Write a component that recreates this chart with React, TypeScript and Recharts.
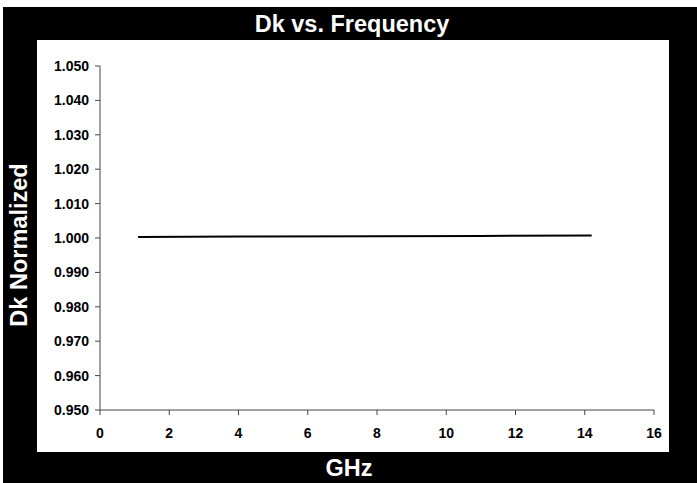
import React from 'react'
import { LineChart, Line, XAxis, YAxis } from 'recharts'

// values
const frequencyGHz = [1.1, 4, 8, 11, 14.2]
const dkNormalized = [1.0003, 1.0004, 1.0005, 1.0006, 1.0007]
const xTicks = [0, 2, 4, 6, 8, 10, 12, 14, 16]
const yTicks = [0.95, 0.96, 0.97, 0.98, 0.99, 1.0, 1.01, 1.02, 1.03, 1.04, 1.05]

const chartData = frequencyGHz.map((f, i) => ({ freq: f, dk: dkNormalized[i] }))

const font = '"Liberation Sans", Arial, sans-serif'
const tickStyle = { fill: '#000', fontSize: 14, fontWeight: 700, fontFamily: font }

export default function App() {
  return (
    <div style={{ position: 'absolute', left: 0, top: 0, width: 697, height: 483, background: '#fff', overflow: 'hidden' }}>
      <svg width={697} height={483} style={{ position: 'absolute', left: 0, top: 0 }}>
        <rect x={3} y={7} width={694} height={476} fill="#000" />
        <rect x={37} y={40} width={632} height={412} fill="#fff" />
        <text x={352} y={32} textAnchor="middle" fill="#fff" fontSize={23.5} fontWeight={700} fontFamily={font}>
          Dk vs. Frequency
        </text>
        <text x={349} y={476} textAnchor="middle" fill="#fff" fontSize={23.5} fontWeight={700} fontFamily={font}>
          GHz
        </text>
        <text
          x={0}
          y={0}
          transform="translate(27,245) rotate(-90)"
          textAnchor="middle"
          fill="#fff"
          fontSize={23.5}
          fontWeight={700}
          fontFamily={font}
        >
          Dk Normalized
        </text>
      </svg>
      <div style={{ position: 'absolute', left: 37, top: 40 }}>
        <LineChart width={632} height={412} data={chartData} margin={{ top: 26, right: 15, bottom: 12, left: 0 }}>
          <XAxis
            dataKey="freq"
            type="number"
            domain={[0, 16]}
            ticks={xTicks}
            height={30}
            stroke="#444"
            tickSize={5}
            tickMargin={13}
            tick={tickStyle}
            interval={0}
          />
          <YAxis
            type="number"
            domain={[0.95, 1.05]}
            ticks={yTicks}
            width={63}
            stroke="#444"
            tickSize={5}
            tickMargin={6}
            tick={tickStyle}
            interval={0}
            tickFormatter={(v: number) => v.toFixed(3)}
          />
          <Line dataKey="dk" stroke="#000" strokeWidth={2} dot={false} isAnimationActive={false} />
        </LineChart>
      </div>
    </div>
  )
}
